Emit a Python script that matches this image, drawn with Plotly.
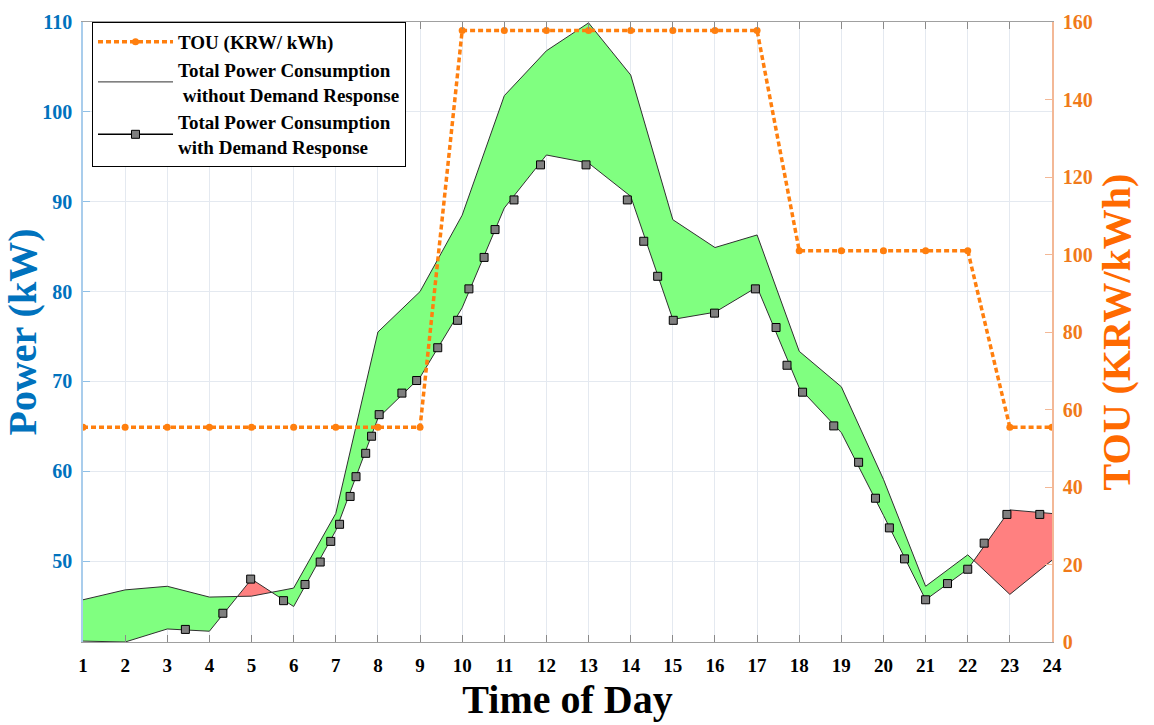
import plotly.graph_objects as go

# ---------------- data ----------------
hours = [1, 2, 3, 4, 5, 6, 7, 8, 9, 10, 11, 12, 13, 14, 15, 16, 17, 18, 19, 20, 21, 22, 23, 24]

power_without_dr = [45.7, 46.8, 47.2, 46.0, 46.1, 47.0, 55.3, 75.5, 80.0, 88.5, 101.8, 106.8,
                    109.9, 104.1, 88.0, 84.9, 86.3, 73.35, 69.4, 59.1, 47.2, 50.7, 46.3, 50.1]

power_with_dr = [41.1, 41.0, 42.45, 42.2, 48.0, 44.95, 53.4, 65.9, 70.45, 78.2, 89.3, 95.2,
                 94.3, 90.6, 76.9, 77.7, 80.5, 69.3, 64.3, 55.1, 45.7, 49.1, 55.7, 55.3]

dr_marker_hours = [3.43, 4.32, 4.98, 5.76, 6.27, 6.63, 6.88, 7.09, 7.34, 7.48, 7.71, 7.85, 8.03, 8.57, 8.92,
                   9.42, 9.89, 10.16, 10.52, 10.78, 11.23, 11.86, 12.94, 13.92, 14.31, 14.64, 15.01, 15.99,
                   16.96, 17.45, 17.71, 18.08, 18.82, 19.41, 19.81, 20.14, 20.5, 21.0, 21.52, 22.0, 22.39,
                   22.93, 23.71]
dr_marker_values = [42.4, 44.2, 48.0, 45.6, 47.4, 49.9, 52.2, 54.1, 57.2, 59.4, 62.0, 63.9, 66.3, 68.7, 70.1,
                    73.75, 76.8, 80.3, 83.8, 86.9, 90.2, 94.1, 94.1, 90.2, 85.6, 81.7, 76.8, 77.6,
                    80.3, 76.0, 71.8, 68.8, 65.05, 61.0, 57.0, 53.7, 50.25, 45.7, 47.5, 49.1, 52.0,
                    55.2, 55.2]

tou_price = [55.4, 55.4, 55.4, 55.4, 55.4, 55.4, 55.4, 55.4, 55.4, 157.8, 157.8, 157.8,
             157.8, 157.8, 157.8, 157.8, 157.8, 101.0, 101.0, 101.0, 101.0, 101.0, 55.4, 55.4]

x_ticks = hours
left_ticks = [50, 60, 70, 80, 90, 100, 110]
right_ticks = [0, 20, 40, 60, 80, 100, 120, 140, 160]

# ---------------- styles ----------------
FONT = "Liberation Serif"
BLUE = "#0072BD"
ORANGE = "#FF7F0E"
ORANGE_TXT = "#F07A1A"
GREEN_FILL = "rgb(128,255,128)"
RED_FILL = "rgb(255,128,128)"
GRID = "#e4e9f0"


def split_regions(x, upper, lower):
    """Split the band between two polylines into same-sign pieces."""
    regions = []
    pts = []
    sign = None
    for i in range(len(x)):
        d = upper[i] - lower[i]
        s = 1 if d >= 0 else -1
        if sign is None:
            sign = s
            pts = [(x[i], upper[i], lower[i])]
        elif s == sign:
            pts.append((x[i], upper[i], lower[i]))
        else:
            d0 = upper[i - 1] - lower[i - 1]
            t = d0 / (d0 - d)
            xc = x[i - 1] + t * (x[i] - x[i - 1])
            yc = upper[i - 1] + t * (upper[i] - upper[i - 1])
            pts.append((xc, yc, yc))
            regions.append((sign, pts))
            pts = [(xc, yc, yc), (x[i], upper[i], lower[i])]
            sign = s
    regions.append((sign, pts))
    return regions


fig = go.Figure()

for sign, pts in split_regions(hours, power_without_dr, power_with_dr):
    xs = [p[0] for p in pts] + [p[0] for p in reversed(pts)]
    ys = [p[1] for p in pts] + [p[2] for p in reversed(pts)]
    fig.add_trace(go.Scatter(
        x=xs, y=ys, mode="lines", fill="toself",
        fillcolor=GREEN_FILL if sign > 0 else RED_FILL,
        line=dict(width=0), hoverinfo="skip", showlegend=False))

fig.add_trace(go.Scatter(
    x=hours, y=power_without_dr, mode="lines",
    name="Total Power Consumption<br> without Demand Response",
    line=dict(color="#303030", width=1), legendrank=2))

fig.add_trace(go.Scatter(
    x=hours, y=power_with_dr, mode="lines",
    line=dict(color="#303030", width=1), showlegend=False))

fig.add_trace(go.Scatter(
    x=dr_marker_hours, y=dr_marker_values, mode="markers",
    marker=dict(symbol="square", size=8, color="#7f7f7f", line=dict(color="#000000", width=1)),
    showlegend=False))

# legend entry for the DR series (line + square marker)
fig.add_trace(go.Scatter(
    x=[None], y=[None], mode="lines+markers",
    name="Total Power Consumption<br>with Demand Response",
    line=dict(color="#000000", width=1.5),
    marker=dict(symbol="square", size=8, color="#7f7f7f", line=dict(color="#000000", width=1)),
    legendrank=3))

fig.add_trace(go.Scatter(
    x=hours, y=tou_price, mode="lines+markers", yaxis="y2",
    name="TOU (KRW/ kWh)",
    line=dict(color=ORANGE, width=3.5, dash="5px,3px"),
    marker=dict(symbol="circle", size=7, color=ORANGE),
    legendrank=1))

fig.update_layout(
    width=1154, height=725,
    margin=dict(l=83, r=102, t=11, b=80),
    paper_bgcolor="white", plot_bgcolor="white",
    font=dict(family=FONT, size=18, color="black"),
    showlegend=True,
    legend=dict(
        x=0.0093, y=1.0, xanchor="left", yanchor="top",
        bgcolor="white", bordercolor="black", borderwidth=1,
        font=dict(family=FONT, size=19, color="black", weight="bold"),
        itemwidth=75, tracegroupgap=0, traceorder="normal",
    ),
    xaxis=dict(
        range=[1, 24], tickmode="array", tickvals=x_ticks,
        ticks="inside", ticklen=7, tickcolor="#8a8a8a",
        showline=True, linecolor="#a0a0a0", linewidth=1, mirror="ticks",
        showgrid=True, gridcolor=GRID, gridwidth=1, zeroline=False,
        tickfont=dict(family=FONT, size=19, color="black", weight="bold"),
        ticklabelstandoff=6,
        title=dict(text="Time of Day", standoff=10,
                   font=dict(family=FONT, size=40, color="black", weight="bold")),
    ),
    yaxis=dict(
        range=[41, 110], tickmode="array", tickvals=left_ticks,
        ticks="inside", ticklen=7, tickcolor="#8fbfe6",
        showline=True, linecolor="#a9cdec", linewidth=1.5,
        showgrid=True, gridcolor=GRID, gridwidth=1, zeroline=False,
        tickfont=dict(family=FONT, size=20, color=BLUE, weight="bold"),
        ticklabelstandoff=5,
        title=dict(text="Power (kW)", standoff=2,
                   font=dict(family=FONT, size=40, color=BLUE, weight="bold")),
    ),
    yaxis2=dict(
        range=[0, 160], tickmode="array", tickvals=right_ticks,
        overlaying="y", side="right",
        ticks="inside", ticklen=7, tickcolor="#f3b896",
        showline=True, linecolor="#f3b896", linewidth=1.5,
        showgrid=False, zeroline=False,
        tickfont=dict(family=FONT, size=20, color=ORANGE_TXT, weight="bold"),
        ticklabelstandoff=5,
        title=dict(text="TOU (KRW/kWh)", standoff=10,
                   font=dict(family=FONT, size=40, color="#FF6A00", weight="bold")),
    ),
)

fig.write_html("out.html")
